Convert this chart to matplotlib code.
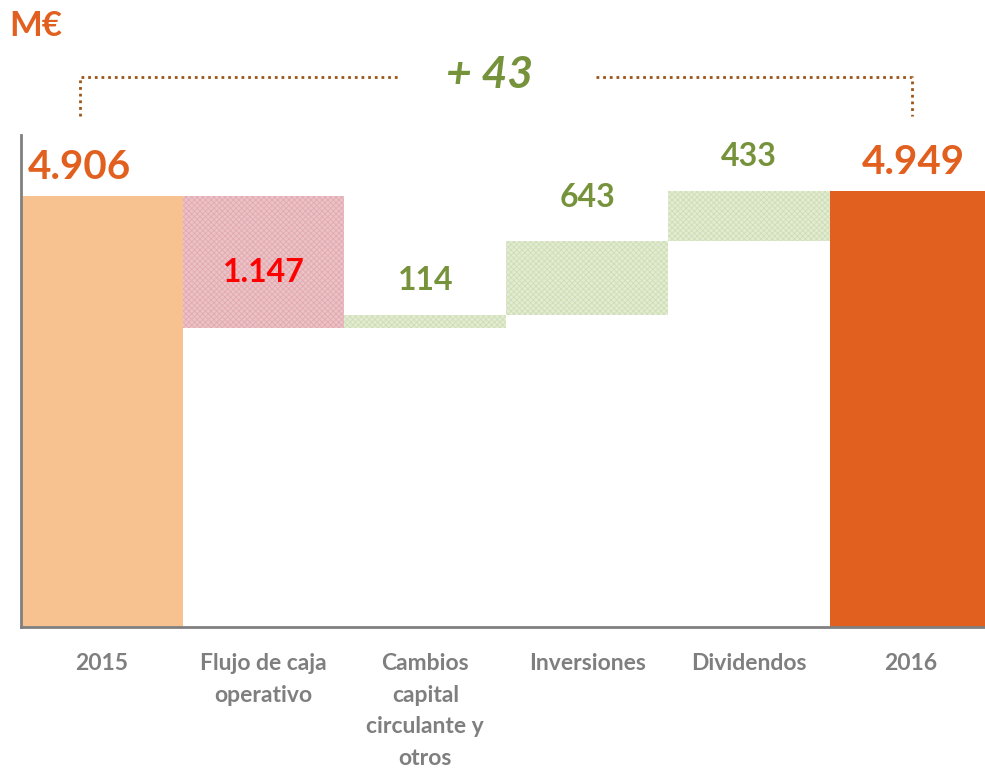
import numpy as np
import matplotlib.pyplot as plt
from matplotlib.lines import Line2D

categories = ['2015', 'Flujo de caja\noperativo', 'Cambios\ncapital\ncirculante y\notros',
              'Inversiones', 'Dividendos', '2016']
values = [4906, -1147, 114, 643, 433, 4949]
labels = ['4.906', '1.147', '114', '643', '433', '4.949']
total_change = '+ 43'

ORANGE = '#E2601F'; LIGHT_ORANGE = '#F8C190'
RED_FILL = '#EBC2C6'; RED_HATCH = '#E2A9B0'
GREEN_FILL = '#E2ECD2'; GREEN_HATCH = '#CFDDB5'
GREEN_TXT = '#76933C'; GREY = '#7F7F7F'; BROWN = '#9C5518'

plt.rcParams['font.family'] = ['Lato', 'DejaVu Sans']
plt.rcParams['hatch.linewidth'] = 0.6

fig = plt.figure(figsize=(9.85, 7.71), dpi=100)
ax = fig.add_axes([0.0213, 0.1868, 0.9787, 0.6381])

# waterfall bottoms / heights
bottoms, heights = [], []
running = 0
for i, v in enumerate(values):
    if i == 0 or i == len(values) - 1:
        bottoms.append(0); heights.append(v); running = v
    else:
        start = running
        running += v
        bottoms.append(min(start, running)); heights.append(abs(v))

x = np.arange(len(categories))
face = [LIGHT_ORANGE, RED_FILL, GREEN_FILL, GREEN_FILL, GREEN_FILL, ORANGE]
edge = [LIGHT_ORANGE, RED_HATCH, GREEN_HATCH, GREEN_HATCH, GREEN_HATCH, ORANGE]
hatch = [None, 'xxxxxx', 'xxxxxx', 'xxxxxx', 'xxxxxx', None]
for xi, b, h, fc, ec, ht in zip(x, bottoms, heights, face, edge, hatch):
    ax.bar(xi, h, bottom=b, width=1.0, color=fc, edgecolor=ec, hatch=ht, linewidth=0)

ax.set_xlim(-0.5, 5.46)
ax.set_ylim(1160, 5440)

# value labels
tops = [b + h for b, h in zip(bottoms, heights)]
ax.annotate(labels[0], (x[0] - 0.14, tops[0]), xytext=(0, 29), textcoords='offset pixels',
            ha='center', va='center', fontsize=29, fontweight='bold', color=ORANGE)
ax.text(x[1], bottoms[1] + heights[1] * 0.42, labels[1], ha='center', va='center',
        fontsize=23, fontweight='bold', color='#FF0000')
for i, off in zip([2, 3, 4], [35, 44, 35]):
    ax.annotate(labels[i], (x[i], tops[i]), xytext=(0, off), textcoords='offset pixels',
                ha='center', va='center', fontsize=23, fontweight='bold', color=GREEN_TXT)
ax.annotate(labels[5], (x[5] + 0.02, tops[5]), xytext=(0, 29), textcoords='offset pixels',
            ha='center', va='center', fontsize=29, fontweight='bold', color=ORANGE)

# axes styling
for sp in ['top', 'right']:
    ax.spines[sp].set_visible(False)
for sp in ['left', 'bottom']:
    ax.spines[sp].set_color('#808080')
    ax.spines[sp].set_linewidth(2)
ax.set_yticks([])
ax.set_xticks(x)
ax.set_xticklabels(categories, fontsize=16.5, fontweight='bold', color=GREY, va='top',
                   linespacing=1.62)
ax.tick_params(axis='x', length=0, pad=19)

# M€ header
fig.text(0.009, 0.966, 'M€', fontsize=25, fontweight='bold', color=ORANGE, va='center')

# bracket with total change
W, H = 985, 771
def fx(px): return px / W
def fy(py): return 1 - py / H
kw = dict(color=BROWN, linestyle=(0, (1, 1.4)), linewidth=2, transform=fig.transFigure)
fig.add_artist(Line2D([fx(80), fx(80), fx(398)], [fy(116), fy(77), fy(77)], **kw))
fig.add_artist(Line2D([fx(596), fx(912), fx(912)], [fy(77), fy(77), fy(116)], **kw))
fig.text(fx(489), fy(75), total_change, ha='center', va='center', fontsize=32,
         fontweight='bold', fontstyle='italic', color=GREEN_TXT)

fig.savefig('out.png', dpi=100, facecolor='white')
